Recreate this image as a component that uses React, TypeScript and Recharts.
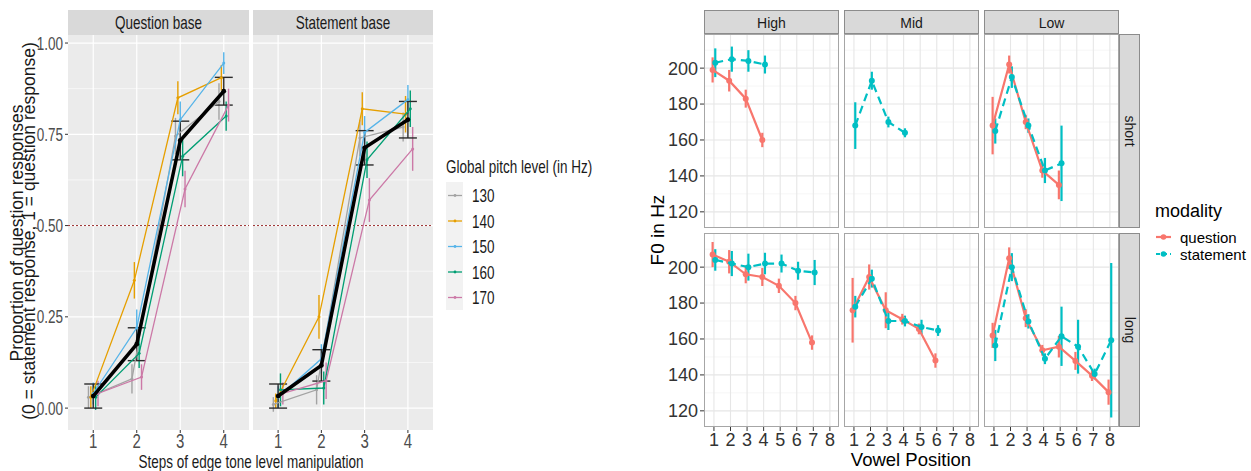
import React from 'react';
import { ComposedChart, Scatter, XAxis, YAxis, CartesianGrid, ErrorBar, ReferenceLine } from 'recharts';

const FONT = '"Liberation Sans", Arial, sans-serif';

// ---------- left figure data ----------
const steps = [1, 2, 3, 4];
const propTicks = [0, 0.25, 0.5, 0.75, 1];
const propTickLabels = ['0.00', '0.25', '0.50', '0.75', '1.00'];
const propMinor = [0.125, 0.375, 0.625, 0.875];
const pitchLevels = ['130', '140', '150', '160', '170'];
const pitchColors = ['#A3A3A3', '#E69F00', '#56B4E9', '#009E73', '#CC79A7'];
const pitchDodge = [-0.11, -0.055, 0, 0.055, 0.11];

const qbPitch = [
  [0.03, 0.08, 0.745, 0.84],
  [0.03, 0.35, 0.85, 0.905],
  [0.04, 0.22, 0.79, 0.945],
  [0.03, 0.15, 0.69, 0.8],
  [0.04, 0.085, 0.6, 0.83],
];
const qbPitchErr = [
  [0.03, 0.04, 0.05, 0.05],
  [0.03, 0.05, 0.045, 0.035],
  [0.03, 0.05, 0.05, 0.03],
  [0.035, 0.04, 0.055, 0.04],
  [0.035, 0.035, 0.05, 0.045],
];
const qbMean = [0.033, 0.175, 0.733, 0.868];
const qbMeanErr = [0.033, 0.045, 0.053, 0.038];

const sbPitch = [
  [0.01, 0.05, 0.74, 0.77],
  [0.02, 0.25, 0.82, 0.805],
  [0.03, 0.135, 0.755, 0.845],
  [0.05, 0.055, 0.68, 0.82],
  [0.04, 0.075, 0.57, 0.71],
];
const sbPitchErr = [
  [0.02, 0.04, 0.05, 0.04],
  [0.02, 0.06, 0.045, 0.05],
  [0.03, 0.04, 0.045, 0.04],
  [0.045, 0.045, 0.05, 0.05],
  [0.03, 0.05, 0.06, 0.06],
];
const sbMean = [0.033, 0.117, 0.713, 0.79];
const sbMeanErr = [0.033, 0.043, 0.047, 0.05];

// ---------- right figure data ----------
const vowelPos = [1, 2, 3, 4, 5, 6, 7, 8];
const hzTicks = [120, 140, 160, 180, 200];
const hzMinor = [130, 150, 170, 190, 210];

const highShortQ = [199, 193, 183, 160];
const highShortQErr = [7, 6, 5, 4];
const highShortS = [203, 205, 204, 202];
const highShortSErr = [8, 7, 6, 5];
const midShortQ: number[] = [];
const midShortQErr: number[] = [];
const midShortS = [168, 193, 170, 164];
const midShortSErr = [13, 5, 3, 2.5];
const lowShortQ = [168, 202, 170, 143, 135];
const lowShortQErr = [16, 5, 4, 4, 8];
const lowShortS = [165, 195, 168, 143, 147];
const lowShortSErr = [7, 6, 4, 7, 21];

const highLongQ = [207, 203, 196, 194.5, 189.6, 180, 158];
const highLongQErr = [7, 6.5, 5, 5, 4, 4, 4];
const highLongS = [204, 202, 200, 202, 202, 198, 197];
const highLongSErr = [6, 7, 7.5, 6, 5, 5, 7];
const midLongQ = [176, 194.5, 176, 171, 165.6, 148];
const midLongQErr = [18, 7, 10, 3, 3, 4];
const midLongS = [178, 193.6, 170, 170, 166.7, 164.7];
const midLongSErr = [6, 5, 5, 3, 4, 3];
const lowLongQ = [162, 205, 171.6, 153.7, 155.7, 147.8, 139.6, 130.4];
const lowLongQErr = [7, 6, 5, 3, 6, 5, 3, 7];
const lowLongS = [156.4, 200, 169.8, 149, 161.5, 155.7, 140.5, 159.3];
const lowLongSErr = [8.7, 7.8, 4, 3, 16.5, 15, 3, 43];

const Q_COLOR = '#F8766D';
const S_COLOR = '#00BFC4';

const mk = (ys: number[], errs: number[], shift: number) =>
  ys.map((v, i) => ({ x: i + 1 + shift, y: v, e: errs[i] }));

const dot = (r: number, color: string) => (p: any) => <circle cx={p.cx} cy={p.cy} r={r} fill={color} />;

const NarrowYTick = (props: any) => {
  const { x, y, payload } = props;
  const i = propTicks.indexOf(payload.value);
  return (
    <g transform={`translate(${x},${y}) scale(0.73,1)`}>
      <text textAnchor="end" dy="0.35em" fontSize={18.5} fill="#4D4D4D" fontFamily={FONT}>
        {propTickLabels[i]}
      </text>
    </g>
  );
};

const NarrowXTick = (props: any) => {
  const { x, y, payload } = props;
  return (
    <g transform={`translate(${x},${y}) scale(0.75,1)`}>
      <text textAnchor="middle" dy="0.71em" fontSize={20} fill="#4D4D4D" fontFamily={FONT}>
        {payload.value}
      </text>
    </g>
  );
};

function LeftFacet({ left, width, showY, vals, errs, mean, meanErr }: any) {
  const yW = showY ? 60 : 0;
  return (
    <div style={{ position: 'absolute', left: left - yW, top: 25 }}>
      <ComposedChart width={width + yW} height={435} margin={{ top: 10, right: 0, bottom: 0, left: 0 }}>
        <CartesianGrid fill="#EBEBEB" stroke="#FFFFFF" strokeWidth={0.6} horizontalValues={propMinor} vertical={false} />
        <CartesianGrid stroke="#FFFFFF" strokeWidth={1.2} horizontalValues={propTicks} verticalValues={steps} />
        <XAxis type="number" dataKey="x" domain={[0.42, 4.58]} allowDataOverflow ticks={steps} interval={0}
          height={30} tickSize={3} tickMargin={1} axisLine={false} tickLine={{ stroke: '#333' }} tick={NarrowXTick} />
        <YAxis type="number" dataKey="y" domain={[-0.06, 1.022]} allowDataOverflow ticks={propTicks} interval={0}
          width={60} hide={!showY} tickSize={3} tickMargin={2} axisLine={false} tickLine={{ stroke: '#333' }} tick={NarrowYTick} />
        <ReferenceLine y={0.5} stroke="#9A2E2E" strokeDasharray="2 2" strokeWidth={1} />
        {pitchLevels.map((p, i) => (
          <Scatter key={p} name={p} data={mk(vals[i], errs[i], pitchDodge[i])} fill={pitchColors[i]}
            line={{ stroke: pitchColors[i], strokeWidth: 1.3 }} shape={dot(1.5, pitchColors[i])} isAnimationActive={false}>
            <ErrorBar dataKey="e" direction="y" width={0} stroke={pitchColors[i]} strokeWidth={1.4} />
          </Scatter>
        ))}
        <Scatter name="mean" data={mk(mean, meanErr, 0)} fill="#000"
          line={{ stroke: '#000', strokeWidth: 3.5 }} shape={dot(2.4, '#000')} isAnimationActive={false}>
          <ErrorBar dataKey="e" direction="y" width={9} stroke="#2B2B2B" strokeWidth={1.4} />
        </Scatter>
      </ComposedChart>
    </div>
  );
}

function RightFacet({ left, top, showX, showY, q, qErr, s, sErr }: any) {
  const yW = showY ? 50 : 0;
  const xH = showX ? 30 : 0;
  return (
    <div style={{ position: 'absolute', left: left - yW, top }}>
      <ComposedChart width={135 + yW} height={194 + xH} margin={{ top: 0, right: 0, bottom: 0, left: 0 }}>
        <CartesianGrid fill="#FFFFFF" stroke="#F2F2F2" strokeWidth={0.7} horizontalValues={hzMinor} vertical={false} />
        <CartesianGrid stroke="#E6E6E6" strokeWidth={1.1} horizontalValues={hzTicks} verticalValues={vowelPos} />
        <XAxis type="number" dataKey="x" domain={[0.4, 8.55]} allowDataOverflow ticks={vowelPos} interval={0}
          height={30} hide={!showX} tickSize={4} tickMargin={2} axisLine={false} tickLine={{ stroke: '#333' }}
          tick={{ fontSize: 18, fill: '#333', fontFamily: FONT }} />
        <YAxis type="number" dataKey="y" domain={[111, 219]} allowDataOverflow ticks={hzTicks} interval={0}
          width={50} hide={!showY} tickSize={4} tickMargin={2} axisLine={false} tickLine={{ stroke: '#333' }}
          tick={{ fontSize: 18, fill: '#333', fontFamily: FONT }} />
        {q.length > 0 && (
          <Scatter name="question" data={mk(q, qErr, -0.08)} fill={Q_COLOR}
            line={{ stroke: Q_COLOR, strokeWidth: 2.2 }} shape={dot(3, Q_COLOR)} isAnimationActive={false}>
            <ErrorBar dataKey="e" direction="y" width={0} stroke={Q_COLOR} strokeWidth={2.2} />
          </Scatter>
        )}
        <Scatter name="statement" data={mk(s, sErr, 0.08)} fill={S_COLOR}
          line={{ stroke: S_COLOR, strokeWidth: 2.2, strokeDasharray: '8 5' }} shape={dot(3, S_COLOR)} isAnimationActive={false}>
          <ErrorBar dataKey="e" direction="y" width={0} stroke={S_COLOR} strokeWidth={2.2} />
        </Scatter>
      </ComposedChart>
    </div>
  );
}

const colLefts = [704, 844, 984];
const colNames = ['High', 'Mid', 'Low'];
const rowTops = [34, 233];
const rowNames = ['short', 'long'];

export default function App() {
  return (
    <div style={{ position: 'absolute', left: 0, top: 0, width: 1251, height: 471, background: '#fff', overflow: 'hidden', fontFamily: FONT }}>
      <LeftFacet left={68} width={181} showY vals={qbPitch} errs={qbPitchErr} mean={qbMean} meanErr={qbMeanErr} />
      <LeftFacet left={253} width={180} showY={false} vals={sbPitch} errs={sbPitchErr} mean={sbMean} meanErr={sbMeanErr} />

      <RightFacet left={704} top={34} showY showX={false} q={highShortQ} qErr={highShortQErr} s={highShortS} sErr={highShortSErr} />
      <RightFacet left={844} top={34} showY={false} showX={false} q={midShortQ} qErr={midShortQErr} s={midShortS} sErr={midShortSErr} />
      <RightFacet left={984} top={34} showY={false} showX={false} q={lowShortQ} qErr={lowShortQErr} s={lowShortS} sErr={lowShortSErr} />
      <RightFacet left={704} top={233} showY showX q={highLongQ} qErr={highLongQErr} s={highLongS} sErr={highLongSErr} />
      <RightFacet left={844} top={233} showY={false} showX q={midLongQ} qErr={midLongQErr} s={midLongS} sErr={midLongSErr} />
      <RightFacet left={984} top={233} showY={false} showX q={lowLongQ} qErr={lowLongQErr} s={lowLongS} sErr={lowLongSErr} />

      <svg width={1251} height={471} style={{ position: 'absolute', left: 0, top: 0, pointerEvents: 'none' }} fontFamily={FONT}>
        {/* left strips */}
        <rect x={68} y={10} width={181} height={25} fill="#D9D9D9" />
        <rect x={253} y={10} width={180} height={25} fill="#D9D9D9" />
        <g transform="translate(158.5,29) scale(0.75,1)">
          <text textAnchor="middle" fontSize={18} fill="#1A1A1A">Question base</text>
        </g>
        <g transform="translate(343,29) scale(0.75,1)">
          <text textAnchor="middle" fontSize={18} fill="#1A1A1A">Statement base</text>
        </g>
        {/* left axis titles */}
        <text transform="translate(17,233) rotate(-90)" textAnchor="middle" dy="0.35em" fontSize={17.5} fill="#1A1A1A">
          Proportion of question responses
        </text>
        <text transform="translate(29,231) rotate(-90)" textAnchor="middle" dy="0.35em" fontSize={17.5} fill="#1A1A1A">
          (0 = statement response, 1 = question response)
        </text>
        <g transform="translate(251,468) scale(0.75,1)">
          <text textAnchor="middle" fontSize={18} fill="#1A1A1A">Steps of edge tone level manipulation</text>
        </g>
        {/* left legend */}
        <g transform="translate(446,173) scale(0.75,1)">
          <text fontSize={18} fill="#1A1A1A">Global pitch level (in Hz)</text>
        </g>
        <rect x={446} y={182} width={17} height={128} fill="#F2F2F2" />
        {pitchLevels.map((p, i) => {
          const cy = 195.5 + 25.5 * i;
          return (
            <g key={p}>
              <line x1={448} x2={462} y1={cy} y2={cy} stroke={pitchColors[i]} strokeWidth={1.3} />
              <circle cx={455} cy={cy} r={1.4} fill={pitchColors[i]} />
              <g transform={`translate(472,${cy + 6.5}) scale(0.75,1)`}>
                <text fontSize={18} fill="#1A1A1A">{p}</text>
              </g>
            </g>
          );
        })}

        {/* right panels borders and strips */}
        {rowTops.map((t) =>
          colLefts.map((l) => (
            <rect key={`${t}-${l}`} x={l + 0.5} y={t + 0.5} width={134} height={193} fill="none" stroke="#A6A6A6" strokeWidth={1} />
          ))
        )}
        {colLefts.map((l, i) => (
          <g key={colNames[i]}>
            <rect x={l + 0.5} y={10.5} width={134} height={23} fill="#D9D9D9" stroke="#8C8C8C" strokeWidth={1} />
            <text x={l + 67.5} y={27.5} textAnchor="middle" fontSize={14} fill="#1A1A1A">{colNames[i]}</text>
          </g>
        ))}
        {rowTops.map((t, i) => (
          <g key={rowNames[i]}>
            <rect x={1119.5} y={t + 0.5} width={20} height={193} fill="#D9D9D9" stroke="#8C8C8C" strokeWidth={1} />
            <text transform={`translate(1129.5,${t + 97}) rotate(90)`} textAnchor="middle" dy="0.35em" fontSize={14} fill="#1A1A1A">
              {rowNames[i]}
            </text>
          </g>
        ))}
        {/* right axis titles */}
        <text transform="translate(657,230) rotate(-90)" textAnchor="middle" dy="0.35em" fontSize={19} fill="#000">F0 in Hz</text>
        <text x={911} y={466} textAnchor="middle" fontSize={18.5} fill="#000">Vowel Position</text>
        {/* right legend */}
        <text x={1155} y={216.5} fontSize={18} fill="#000">modality</text>
        <line x1={1156} x2={1171} y1={237} y2={237} stroke={Q_COLOR} strokeWidth={2.2} />
        <circle cx={1163.5} cy={237} r={2.8} fill={Q_COLOR} />
        <text x={1180} y={242.5} fontSize={15} fill="#000">question</text>
        <line x1={1156} x2={1171} y1={254} y2={254} stroke={S_COLOR} strokeWidth={2.2} strokeDasharray="4 3" />
        <circle cx={1163.5} cy={254} r={2.8} fill={S_COLOR} />
        <text x={1180} y={259.5} fontSize={15} fill="#000">statement</text>
      </svg>
    </div>
  );
}
